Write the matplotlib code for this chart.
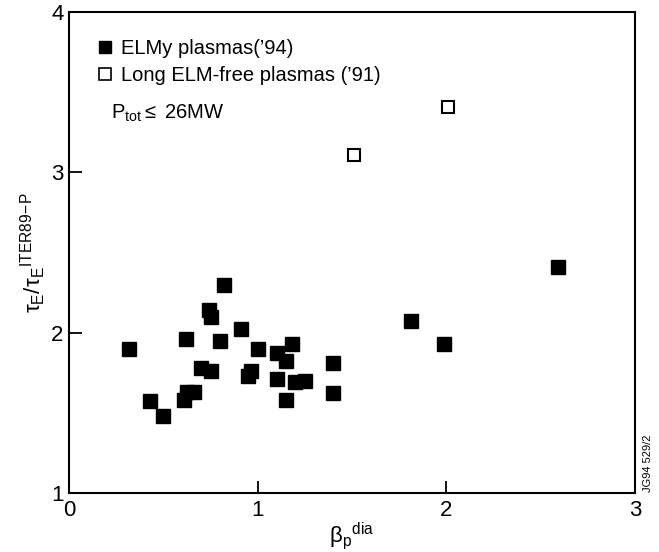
import matplotlib
matplotlib.use("Agg")
import matplotlib.pyplot as plt
from matplotlib.lines import Line2D

plt.rcParams['font.family'] = ['Liberation Sans', 'DejaVu Sans']
plt.rcParams['mathtext.fontset'] = 'custom'
plt.rcParams['mathtext.rm'] = 'Liberation Sans'
plt.rcParams['mathtext.it'] = 'Liberation Sans:italic'

# ELMy plasmas ('94): beta_p^dia vs tau_E / tau_E^ITER89-P
elmy_beta = [0.82, 0.74, 0.75, 0.91, 0.62, 0.80, 0.32, 1.00, 1.18, 1.10,
             1.15, 1.40, 0.70, 0.755, 0.967, 0.95, 1.10, 1.20, 1.25, 1.40,
             1.15, 0.626, 0.61, 0.66, 0.43, 0.50, 2.59, 1.81, 1.99]
elmy_tau = [2.30, 2.14, 2.10, 2.02, 1.96, 1.95, 1.90, 1.90, 1.93, 1.87,
            1.82, 1.81, 1.78, 1.76, 1.76, 1.73, 1.71, 1.69, 1.70, 1.62,
            1.58, 1.63, 1.58, 1.63, 1.57, 1.48, 2.41, 2.07, 1.93]

# long ELM-free plasmas ('91)
free_beta = [2.01, 1.51]
free_tau = [3.41, 3.11]

fig = plt.figure(figsize=(6.59, 5.52), dpi=100)
ax = fig.add_axes([0.1047, 0.1074, 0.859, 0.8703])

ax.plot(elmy_beta, elmy_tau, 's', color='black', markersize=10, linestyle='none')
ax.plot(free_beta, free_tau, 's', markerfacecolor='white', markeredgecolor='black',
        markeredgewidth=1.5, markersize=9, linestyle='none')

ax.set_xlim(0, 3)
ax.set_ylim(1, 4)
ax.set_xticks([0, 1, 2, 3])
ax.set_yticks([1, 2, 3, 4])
ax.tick_params(direction='in', length=9, width=1.3, labelsize=16)
ax.tick_params(axis='x', pad=5)
ax.tick_params(axis='y', pad=4)
for s in ax.spines.values():
    s.set_linewidth(1.5)

ax.set_xlabel(r'$\mathrm{\beta_p}^{\mathrm{dia}}$', fontsize=16, labelpad=0)
ax.set_ylabel(r'$\mathrm{\tau_E/\tau_E}^{\mathrm{ITER89\!-\!P}}$', fontsize=16, labelpad=2)

handles = [
    Line2D([], [], marker='s', color='black', linestyle='none', markersize=9),
    Line2D([], [], marker='s', markerfacecolor='white', markeredgecolor='black',
           markeredgewidth=1.2, linestyle='none', markersize=8),
]
ax.legend(handles, ["ELMy plasmas(\u201994)", "Long ELM-free plasmas (\u201991)"],
          loc='upper left', bbox_to_anchor=(0.018, 0.982), frameon=False,
          fontsize=14.5, handlelength=0.8, handletextpad=0.4, labelspacing=0.4)
ax.text(0.075, 0.79, r'P$_{\mathrm{tot}}$$\leq$ 26MW', transform=ax.transAxes,
        fontsize=14.5, va='center', ha='left')

fig.text(0.983, 0.16, 'JG94 529/2', rotation=90, fontsize=8, ha='center', va='center')

fig.savefig('out.png', dpi=100)
